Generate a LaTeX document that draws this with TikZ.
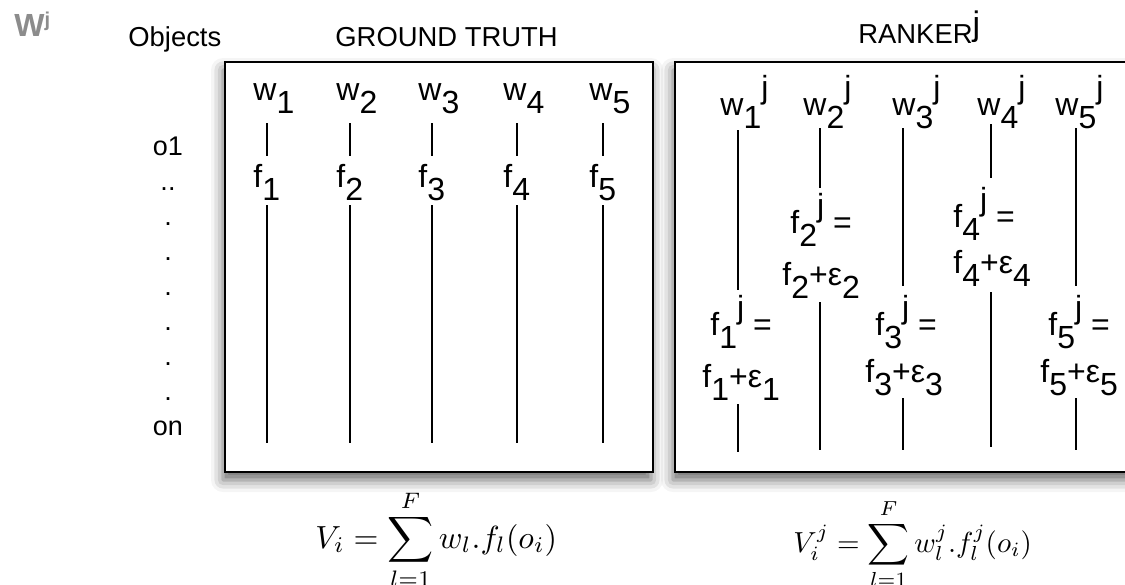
\documentclass[tikz,border=0pt]{standalone}
\usepackage{graphicx}
\usepackage[no-math]{fontspec}
\setmainfont{Liberation Sans}
\usetikzlibrary{shadows.blur}
\newcommand{\lo}[1]{\raisebox{-6.5pt}{#1}}
\newcommand{\hi}[1]{\raisebox{8.5pt}{#1}}
\definecolor{titlegray}{RGB}{140,140,140}
\begin{document}
\begin{tikzpicture}[x=0.5pt,y=-0.5pt,
  lab/.style={font=\fontsize{16}{18}\selectfont, anchor=base west, inner sep=0pt},
  hd/.style={font=\fontsize{13.7}{16}\selectfont, anchor=base west, inner sep=0pt},
  rowlab/.style={font=\fontsize{13.5}{16}\selectfont, anchor=base, inner sep=0pt},
  frame/.style={draw=black, line width=1pt, fill=white,
    blur shadow={shadow xshift=-1pt, shadow yshift=-4pt, shadow blur radius=6pt, shadow opacity=60}},
  col/.style={line width=0.75pt},
  mth/.style={anchor=base west, inner sep=0pt}]
\useasboundingbox (0,0) rectangle (1125,584);
\clip (0,0) rectangle (1125,584);

% title mark
\node[anchor=base west, inner sep=0pt, text=titlegray, font=\fontsize{16}{18}\selectfont\bfseries] (wj) at (14,36) {W\raisebox{5pt}{\fontsize{10}{10}\selectfont j}};

% headers
\node[hd] (objects) at (128,46) {Objects};
\node[hd] (ground) at (335,46) {GROUND TRUTH};
\node[hd] (ranker) at (858,43) {RANKER\raisebox{4pt}{\fontsize{17}{17}\selectfont j}};

% boxes
\draw[frame] (225,62) rectangle (653,472);
\draw[frame] (675,62) rectangle (1170,472);

% object rows
\node[rowlab] (o1) at (168,155) {o1};
\node[rowlab] (odd) at (168,190) {..};
\foreach \k/\y in {1/225,2/260,3/295,4/330,5/365,6/400} {
  \node[rowlab] (od\k) at (168,\y) {.};
}
\node[rowlab] (on) at (168,435) {on};

% ground truth columns
\foreach \i/\x in {1/267,2/350,3/432,4/517,5/603} {
  \node[lab] (gw\i) at (\x-14,100) {w\lo{\i}};
  \node[lab] (gf\i) at (\x-14,187) {f\lo{\i}};
  \coordinate (ga\i) at (\x,123);
  \coordinate (gb\i) at (\x,156);
  \coordinate (gc\i) at (\x,205);
  \coordinate (gd\i) at (\x,443);
  \draw[col] (ga\i) -- (gb\i);
  \draw[col] (gc\i) -- (gd\i);
}

% ranker columns
\foreach \i/\x/\wx/\ex/\ey/\px/\py/\la/\lb/\lc/\ld in {
  1/738/720/710/335/702/387/130/290/404/452,
  2/820/803/790/233/782/285/128/188/302/450,
  3/903/892/875/335/865/382/128/286/398/450,
  4/991/977/953/227/953/273/124/178/292/447,
  5/1076/1055/1048/335/1040/382/128/286/398/450} {
  \node[lab] (rw\i) at (\wx,115) {w\lo{\i}\hi{j}};
  \node[lab] (re\i) at (\ex,\ey) {f\lo{\i}\hi{j} =};
  \node[lab] (rp\i) at (\px,\py) {f\lo{\i}+ε\lo{\i}};
  \coordinate (ra\i) at (\x,\la);
  \coordinate (rb\i) at (\x,\lb);
  \coordinate (rc\i) at (\x,\lc);
  \coordinate (rd\i) at (\x,\ld);
  \draw[col] (ra\i) -- (rb\i);
  \draw[col] (rc\i) -- (rd\i);
}

% formulas
\node[mth] (fgt) at (315,548) {\scalebox{1.6}{$\displaystyle V_i=\sum_{l=1}^{F} w_l.f_l(o_i)$}};
\node[mth] (frk) at (793,552) {\scalebox{1.45}{$\displaystyle V_i^j=\sum_{l=1}^{F} w_l^j.f_l^j(o_i)$}};
\end{tikzpicture}
\end{document}
